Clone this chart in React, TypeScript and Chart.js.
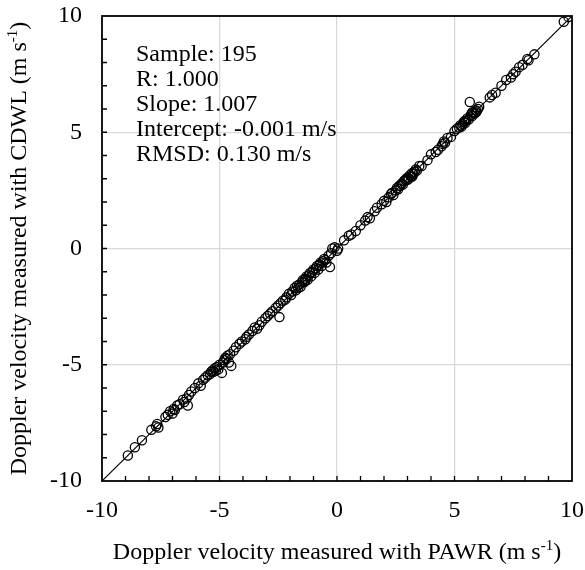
import React, { useEffect, useRef } from "react";
import { Chart, registerables } from "chart.js";
Chart.register(...registerables);

// Doppler velocity measured with PAWR (x) and CDWL (y), m/s
const pawr = [
  -8.9, -8.6, -8.3, -7.9, -7.7, -7.65, -7.6, -7.3, -7.2, -7.1, -7.0, -6.95, -6.8, -6.7, -6.55, -6.5, -6.4, -6.35, -6.3, -6.2,
  -6.05, -5.9, -5.8, -5.7, -5.6, -5.5, -5.4, -5.3, -5.25, -5.2, -5.15, -5.1, -5.0, -4.9, -4.8, -4.75, -4.7, -4.65, -4.6, -4.55,
  -4.5, -4.4, -4.3, -4.15, -4.05, -3.85, -3.75, -3.6, -3.5, -3.4, -3.3, -3.2, -3.05, -2.95, -2.85, -2.75, -2.6, -2.5, -2.45, -2.4,
  -2.3, -2.15, -2.05, -1.95, -1.9, -1.8, -1.75, -1.7, -1.6, -1.55, -1.5, -1.45, -1.4, -1.35, -1.3, -1.25, -1.2, -1.15, -1.1, -1.05,
  -1.0, -0.95, -0.9, -0.85, -0.8, -0.75, -0.7, -0.65, -0.6, -0.5, -0.45, -0.3, -0.25, -0.2, -0.1, 0.0, 0.05, 0.3, 0.5, 0.6,
  0.8, 1.0, 1.3, 1.4, 1.6, 1.7, 1.9, 2.0, 2.1, 2.2, 2.3, 2.4, 2.5, 2.55, 2.6, 2.7, 2.75, 2.8, 2.85, 2.9,
  2.95, 3.0, 3.05, 3.1, 3.15, 3.2, 3.25, 3.3, 3.35, 3.4, 3.5, 3.6, 3.85, 4.0, 4.2, 4.3, 4.5, 4.55, 4.6, 4.7,
  4.85, 5.0, 5.1, 5.2, 5.3, 5.35, 5.4, 5.45, 5.5, 5.55, 5.6, 5.65, 5.7, 5.75, 5.8, 5.85, 5.9, 5.95, 6.0, 6.05,
  6.5, 6.6, 6.75, 7.2, 7.4, 7.5, 7.6, 7.75, 7.9, 8.1, 8.15, 8.4, 9.65, 9.85, -5.35, -5.05, -4.85, -1.65, -1.35, -0.55,
  2.65, 3.0, 3.2, 5.25, 5.75, 5.9, -6.9, -3.9, 1.2, 4.45, 7.0, -0.35, 2.35, -2.2, 5.45,
];
const cdwl = [
  -8.9, -8.55, -8.25, -7.8, -7.65, -7.55, -7.7, -7.25, -7.15, -7.0, -7.1, -6.9, -6.75, -6.7, -6.5, -6.6, -6.45, -6.75, -6.3, -6.15,
  -6.0, -5.8, -5.9, -5.65, -5.55, -5.45, -5.4, -5.25, -5.3, -5.15, -5.25, -5.1, -5.0, -5.35, -4.8, -4.7, -4.75, -4.6, -4.9, -4.55,
  -5.05, -4.4, -4.25, -4.1, -4.0, -3.8, -3.7, -3.55, -3.4, -3.45, -3.3, -3.15, -3.0, -2.9, -2.8, -2.7, -2.55, -2.45, -2.95, -2.35,
  -2.25, -2.1, -1.95, -2.0, -1.85, -1.7, -1.8, -1.6, -1.55, -1.65, -1.45, -1.35, -1.45, -1.3, -1.2, -1.35, -1.15, -1.05, -1.2, -1.0,
  -0.9, -1.05, -0.85, -0.75, -0.9, -0.7, -0.6, -0.75, -0.55, -0.5, -0.6, -0.8, -0.2, 0.0, 0.05, -0.1, 0.0, 0.35, 0.55, 0.6,
  0.75, 1.0, 1.35, 1.3, 1.6, 1.75, 1.9, 2.05, 2.0, 2.2, 2.35, 2.3, 2.5, 2.6, 2.55, 2.7, 2.8, 2.75, 2.9, 2.95,
  3.0, 3.05, 3.0, 3.15, 3.1, 3.25, 3.2, 3.3, 3.4, 3.35, 3.55, 3.55, 3.8, 4.05, 4.15, 4.25, 4.5, 4.6, 4.55, 4.75,
  4.8, 5.05, 5.15, 5.2, 5.25, 5.35, 5.45, 5.4, 5.5, 5.6, 5.55, 6.3, 5.75, 5.7, 5.85, 5.8, 5.95, 5.9, 6.0, 6.1,
  6.5, 6.6, 6.7, 7.25, 7.35, 7.5, 7.6, 7.8, 7.9, 8.15, 8.1, 8.35, 9.75, 9.95, -5.3, -5.2, -4.9, -1.7, -1.4, -0.45,
  2.7, 2.95, 3.1, 5.3, 5.85, 5.85, -6.95, -3.9, 1.2, 4.4, 7.0, -0.3, 2.4, -2.2, 5.5,
];
const oneToOne = [-10, 10];
const axisMin = -10;
const axisMax = 10;
const majorStep = 5;
const minorStep = 1;
const statsLines = ["Sample: 195", "R: 1.000", "Slope: 1.007", "Intercept: -0.001 m/s", "RMSD: 0.130 m/s"];
const xTitle = ["Doppler velocity measured with PAWR (m s", "-1", ")"];
const yTitle = ["Doppler velocity measured with CDWL (m s", "-1", ")"];

const FONT = "'Liberation Serif', 'Times New Roman', serif";
const FS = 24;

function drawSupTitle(ctx: CanvasRenderingContext2D, parts: string[], cx: number, cy: number) {
  const main = FS + "px " + FONT;
  const sup = "15px " + FONT;
  ctx.font = main;
  const w1 = ctx.measureText(parts[0]).width;
  const w3 = ctx.measureText(parts[2]).width;
  ctx.font = sup;
  const w2 = ctx.measureText(parts[1]).width;
  let x = cx - (w1 + w2 + w3) / 2;
  ctx.textAlign = "left";
  ctx.textBaseline = "middle";
  ctx.fillStyle = "#000";
  ctx.font = main;
  ctx.fillText(parts[0], x, cy);
  x += w1;
  ctx.font = sup;
  ctx.fillText(parts[1], x, cy - 7);
  x += w2;
  ctx.font = main;
  ctx.fillText(parts[2], x, cy);
}

const decorPlugin = {
  id: "decor",
  afterDraw(chart: any) {
    const ctx: CanvasRenderingContext2D = chart.ctx;
    const { left, right, top, bottom } = chart.chartArea;
    const xs = chart.scales.x;
    const ys = chart.scales.y;
    ctx.save();
    // inward minor ticks
    ctx.strokeStyle = "#000";
    ctx.lineWidth = 1.3;
    ctx.beginPath();
    for (let v = axisMin + minorStep; v < axisMax; v += minorStep) {
      const px = xs.getPixelForValue(v);
      ctx.moveTo(px, bottom);
      ctx.lineTo(px, bottom - 5);
      const py = ys.getPixelForValue(v);
      ctx.moveTo(left, py);
      ctx.lineTo(left + 5, py);
    }
    ctx.stroke();
    // box
    ctx.lineWidth = 1.8;
    ctx.strokeRect(left, top, right - left, bottom - top);
    // stats text
    ctx.fillStyle = "#000";
    ctx.font = FS + "px " + FONT;
    ctx.textAlign = "left";
    ctx.textBaseline = "middle";
    statsLines.forEach((s, i) => ctx.fillText(s, 136, 55 + i * 25));
    // axis titles
    drawSupTitle(ctx, xTitle, (left + right) / 2, 553);
    ctx.translate(20, (top + bottom) / 2);
    ctx.rotate(-Math.PI / 2);
    drawSupTitle(ctx, yTitle, 0, 0);
    ctx.restore();
  },
};

export default function App() {
  const ref = useRef<HTMLCanvasElement>(null);
  useEffect(() => {
    if (!ref.current) return;
    const points = pawr.map((x, i) => ({ x, y: cdwl[i] }));
    const linePts = oneToOne.map((v) => ({ x: v, y: v }));
    const gridColor = (c: any) =>
      c.tick && (c.tick.value === axisMin || c.tick.value === axisMax) ? "rgba(0,0,0,0)" : "#d9d9d9";
    const chart = new Chart(ref.current, {
      type: "scatter",
      data: {
        datasets: [
          {
            type: "line",
            data: linePts,
            borderColor: "#000",
            borderWidth: 1.2,
            pointRadius: 0,
            fill: false,
          } as any,
          {
            data: points,
            pointStyle: "circle",
            pointRadius: 4.6,
            borderColor: "#000",
            borderWidth: 1.3,
            backgroundColor: "rgba(0,0,0,0)",
          },
        ],
      },
      options: {
        responsive: false,
        animation: false,
        layout: { padding: { top: 16, right: 13, left: 0, bottom: 0 } },
        plugins: { legend: { display: false }, tooltip: { enabled: false } },
        scales: {
          x: {
            type: "linear",
            min: axisMin,
            max: axisMax,
            afterFit: (s: any) => {
              s.height = 89;
              s.paddingLeft = 0;
              s.paddingRight = 0;
            },
            ticks: { stepSize: majorStep, color: "#000", padding: 15, font: { family: FONT, size: FS } },
            grid: { color: gridColor, drawTicks: false, lineWidth: 1.3 },
            border: { display: false },
          },
          y: {
            type: "linear",
            min: axisMin,
            max: axisMax,
            afterFit: (s: any) => {
              s.width = 102;
              s.paddingTop = 0;
              s.paddingBottom = 0;
            },
            ticks: { stepSize: majorStep, color: "#000", padding: 20, font: { family: FONT, size: FS } },
            grid: { color: gridColor, drawTicks: false, lineWidth: 1.3 },
            border: { display: false },
          },
        },
      },
      plugins: [decorPlugin],
    });
    return () => chart.destroy();
  }, []);
  return (
    <div style={{ position: "absolute", left: 0, top: 0, width: 585, height: 570, background: "#fff" }}>
      <canvas ref={ref} width={585} height={570} />
    </div>
  );
}
